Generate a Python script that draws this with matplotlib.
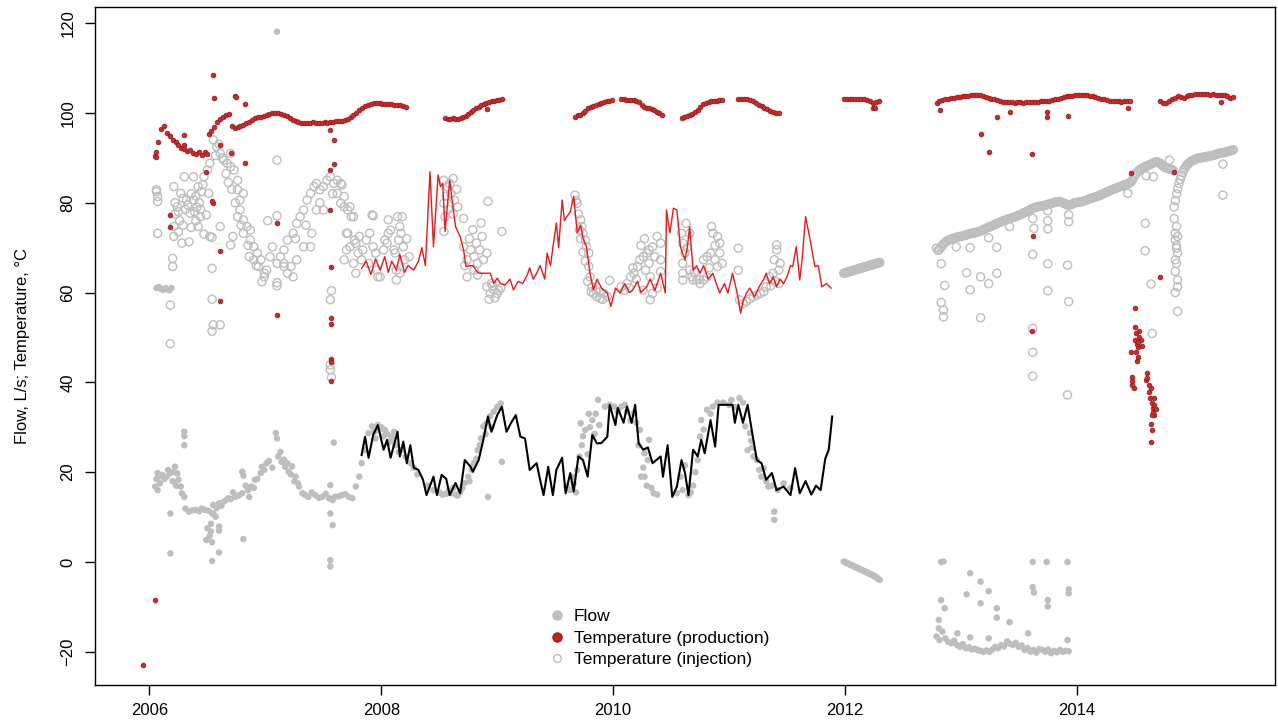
import numpy as np
import matplotlib.pyplot as plt
from matplotlib.lines import Line2D

plt.rcParams['font.family'] = ['Liberation Sans', 'DejaVu Sans']

# ------------------------------------------------------------------ #
# Data (decimal years). Continuous pieces: (start, end, values)
# ------------------------------------------------------------------ #

# production temperature, continuous pieces
prod_p1 = (2006.05, 2006.50, [90.5, 93.5, 96.5, 97, 95.5, 94.8, 94, 93.5, 92.8, 92.3, 92, 91.5,
                              91.8, 91.1, 90.8, 91.3, 90.7, 91.2, 90.8])
prod_p2 = (2006.51, 2008.21, [95.4, 96, 96.8, 98, 98.6, 99.2, 99.5, 99.8, 97.2, 96.6, 96.8, 97.1,
                              97.4, 97.8, 98, 98.4, 98.8, 99, 99.2, 99.4, 99.6, 99.8, 99.9, 100,
                              99.9, 99.8, 99.6, 99.3, 98.9, 98.4, 98.1, 97.9, 97.8, 97.7, 97.8,
                              97.7, 97.9, 97.8, 97.7, 97.8, 97.9, 97.8, 97.9, 98, 98.1, 98.2, 98.3,
                              98.4, 98.7, 99.1, 99.6, 100.1, 100.6, 101.1, 101.5, 101.8, 102,
                              102.2, 102.3, 102.2, 102.1, 102, 101.9, 101.9, 101.8, 101.7, 101.7,
                              101.6, 101.4])
prod_p3 = (2008.55, 2009.04, [98.8, 98.7, 98.6, 98.8, 98.6, 98.7, 98.9, 99.2, 99.4, 99.8, 100.3,
                              100.6, 101, 101.4, 101.7, 102, 102.2, 102.4, 102.6, 102.6, 102.8,
                              102.9, 103])
prod_p4 = (2009.67, 2009.99, [99.2, 99.5, 99.6, 99.9, 100.5, 101, 101.4, 101.6, 101.8, 102, 102.3,
                              102.5, 102.6, 102.7, 102.8])
prod_p5 = (2010.07, 2010.42, [103, 103, 102.9, 102.8, 102.8, 102.8, 102.7, 102.5, 101.8, 101.4,
                              101.2, 101, 100.8, 100.6, 100.2, 99.9, 99.6])
prod_p6 = (2010.59, 2010.94, [98.8, 99.1, 99.4, 99.6, 99.8, 100.3, 100.7, 101.3, 101.9, 102.2,
                              102.4, 102.6, 102.7, 102.7, 102.8, 102.8])
prod_p7 = (2011.08, 2011.43, [103, 103.1, 103.2, 103.1, 102.8, 102.6, 102.3, 101.8, 101.5, 101.1,
                              100.8, 100.5, 100.3, 100.1, 99.9])
prod_p8 = (2011.99, 2012.29, [103, 103.1, 103, 103.1, 103.1, 103, 103.1, 103, 102.9, 102.6, 102.2,
                              102.4, 102.6])
prod_p9 = (2012.79, 2014.46, [102.2, 102.6, 102.9, 103.1, 103.2, 103.3, 103.4, 103.5, 103.6, 103.7,
                              103.8, 103.8, 103.9, 104, 104, 104, 103.8, 103.6, 103.4, 103.2, 103,
                              102.8, 102.6, 102.5, 102.4, 102.4, 102.4, 102.3, 102.4, 102.4, 102.3,
                              102.4, 102.4, 102.5, 102.5, 102.5, 102.6, 102.6, 102.6, 102.7, 102.8,
                              103, 103.2, 103.4, 103.6, 103.7, 103.8, 103.8, 103.9, 104, 104, 103.9,
                              103.9, 103.8, 103.7, 103.5, 103.3, 103.1, 103, 102.8, 102.7, 102.6,
                              102.6, 102.6, 102.5, 102.6, 102.6, 102.6])
prod_p10 = (2014.72, 2015.35, [102.6, 102.3, 102.2, 102.6, 103, 103.3, 103.7, 103.5, 103.3, 103.7,
                               104, 104.1, 104.2, 104.2, 104.3, 104.2, 104.2, 104.1, 104.2, 104.1,
                               104, 104, 103.9, 103.7, 103.3, 103.6])

# production temperature, single readings
prod_x = [2005.94, 2006.05, 2006.06, 2006.06, 2006.30, 2006.30, 2006.18, 2006.18, 2006.49, 2006.55,
          2006.56, 2006.55, 2006.54, 2006.61, 2006.61, 2006.61, 2006.70, 2006.74, 2006.75, 2006.82,
          2006.82, 2007.10, 2007.10, 2007.56, 2007.59, 2007.59, 2007.56, 2007.56, 2007.57, 2007.57,
          2007.57, 2007.57, 2007.57, 2007.57, 2008.91, 2012.24, 2012.26, 2012.82, 2013.31, 2013.42,
          2013.74, 2013.74, 2013.92, 2013.17, 2013.24, 2013.61, 2013.62, 2013.61, 2014.44, 2014.47,
          2014.84, 2014.72, 2015.24,
          2014.50, 2014.50, 2014.51, 2014.50, 2014.55, 2014.53, 2014.51, 2014.53, 2014.47, 2014.52,
          2014.54, 2014.56, 2014.52, 2014.54, 2014.53, 2014.48, 2014.48, 2014.49, 2014.48, 2014.61,
          2014.60, 2014.61, 2014.62, 2014.63, 2014.65, 2014.67, 2014.66, 2014.67, 2014.65, 2014.64,
          2014.65, 2014.64, 2014.66, 2014.67, 2014.68, 2014.64, 2014.62]
prod_y = [-23, -8.5, 90.3, 91.4, 95.1, 92.9, 77.3, 74.5, 86.9, 108.5,
          103.3, 79.9, 80.5, 92.9, 69.3, 58.2, 91, 103.7, 103.5, 102,
          88.8, 75.4, 55, 96.2, 94, 88.6, 87.3, 78.4, 65.8, 54.3,
          52.9, 45.2, 44.6, 40.4, 100.9, 101, 101.2, 100.7, 99, 100.3,
          100.2, 99, 99.3, 95.3, 91.3, 90.9, 72.6, 51.4, 101, 86.6,
          86.9, 63.4, 102.4,
          56.5, 52.4, 50.9, 49.4, 49.4, 47.9, 46.8, 45.7, 46.8, 48.5,
          50.2, 48, 44.8, 51.5, 49, 41.3, 40.2, 38.7, 39.5, 42,
          40.5, 41, 37.9, 36.5, 35.3, 36.5, 34.2, 32.7, 32.7, 30.7,
          29.4, 26.8, 33.5, 35, 34, 38.8, 39.5]

# injection temperature, continuous pieces
inj_p1 = (2011.99, 2012.30, [64.30, 64.35, 64.40, 64.45, 64.50, 64.55, 64.60, 64.65, 64.70, 64.75,
                             64.80, 64.85, 64.90, 64.95, 65.00, 65.05, 65.10, 65.15, 65.20, 65.25,
                             65.30, 65.35, 65.40, 65.45, 65.50, 65.55, 65.60, 65.65, 65.70, 65.75,
                             65.80, 65.85, 65.90, 65.95, 66.00, 66.05, 66.10, 66.15, 66.20, 66.25,
                             66.30, 66.35, 66.40, 66.45, 66.50, 66.55, 66.60, 66.65, 66.70])
inj_p2 = (2012.79, 2014.83, [69.9, 69.4, 69.6, 70.1, 70.5, 70.9, 71.2, 71.4, 71.6, 71.8, 71.9, 72.0,
                             72.1, 72.2, 72.3, 72.4, 72.5, 72.5, 72.6, 72.7, 72.8, 72.9, 73, 73.1,
                             73.2, 73.2, 73.3, 73.4, 73.5, 73.6, 73.7, 73.8, 74, 74.2, 74.3, 74.5,
                             74.6, 74.7, 74.9, 75.0, 75.2, 75.3, 75.5, 75.6, 75.7, 75.9, 76, 76.1,
                             76.2, 76.4, 76.5, 76.6, 76.7, 76.8, 76.9, 77.0, 77.2, 77.3, 77.4,
                             77.6, 77.8, 77.9, 78.1, 78.2, 78.4, 78.6, 78.8, 78.9, 79, 79.1, 79.2,
                             79.2, 79.3, 79.3, 79.4, 79.5, 79.6, 79.7, 79.8, 79.9, 80, 80.1, 80.2,
                             80.2, 80.3, 80.2, 80.1, 79.9, 79.8, 79.6, 79.5, 79.5, 79.6, 79.7,
                             79.9, 80, 80.1, 80.1, 80.2, 80.2, 80.3, 80.4, 80.5, 80.6, 80.8, 80.9,
                             81, 81.1, 81.2, 81.3, 81.4, 81.5, 81.7, 81.8, 82, 82.1, 82.3, 82.4,
                             82.6, 82.7, 82.9, 83, 83.1, 83.2, 83.4, 83.5, 83.6, 83.7, 83.9, 84,
                             84.1, 84.2, 84.4, 84.6, 85, 85.6, 86.2, 86.6, 87, 87.3, 87.5, 87.7,
                             87.9, 88, 88.2, 88.3, 88.5, 88.6, 88.8, 88.9, 89.1, 89.1, 89, 88.8,
                             88.5, 88.2, 88, 87.8, 87.7, 87.6, 87.5, 87.4, 87.3])
inj_p3 = (2014.84, 2015.35, [79.1, 80.5, 82, 83.2, 84.3, 85.2, 86, 86.7, 87.3, 87.8, 88.2, 88.5,
                             88.8, 89, 89.2, 89.4, 89.5, 89.6, 89.8, 89.9, 89.9, 90, 90, 90.1,
                             90.1, 90.2, 90.2, 90.3, 90.3, 90.4, 90.4, 90.5, 90.5, 90.6, 90.7,
                             90.8, 90.9, 91, 91, 91.1, 91.1, 91.2, 91.2, 91.3, 91.4, 91.5, 91.5,
                             91.6, 91.7, 91.8])

# injection temperature, single readings
inj_x = [2006.06, 2006.07, 2006.07, 2006.07, 2006.06, 2006.21, 2006.24, 2006.27, 2006.30, 2006.32,
         2006.35, 2006.38, 2006.41, 2006.44, 2006.42, 2006.38, 2006.21, 2006.21, 2006.28, 2006.34,
         2006.42, 2006.47, 2006.50, 2006.52, 2006.51, 2006.20, 2006.20, 2006.54, 2006.61, 2006.52,
         2006.49, 2006.22, 2006.25, 2006.26, 2006.29, 2006.31, 2006.33, 2006.36, 2006.39, 2006.40,
         2006.43, 2006.45, 2006.46, 2006.44, 2006.25, 2006.29, 2006.36, 2006.47, 2006.22, 2006.40,
         2006.18, 2006.18, 2006.54, 2006.54, 2006.54, 2006.55, 2006.61, 2007.10, 2007.02, 2007.10,
         2007.10, 2007.57, 2007.56, 2007.56, 2007.56, 2007.57, 2007.93, 2007.10,
         # 2006.5 - 2007.0 decline
         2006.55, 2006.58, 2006.61, 2006.64, 2006.67, 2006.70, 2006.70, 2006.73, 2006.76, 2006.76,
         2006.78, 2006.81, 2006.78, 2006.76, 2006.81, 2006.84, 2006.87, 2006.81, 2006.87, 2006.90,
         2006.93, 2006.96, 2006.94, 2006.99, 2006.90, 2006.86, 2006.70, 2006.72, 2006.57, 2006.60,
         2006.63, 2006.66, 2006.68, 2006.71, 2006.74, 2006.79, 2006.85, 2006.92, 2006.97, 2006.99,
         2007.01,
         # 2007 rise
         2007.04, 2007.10, 2007.16, 2007.06, 2007.13, 2007.16, 2007.19, 2007.24, 2007.27, 2007.30,
         2007.33, 2007.36, 2007.39, 2007.42, 2007.44, 2007.47, 2007.50, 2007.53, 2007.56, 2007.59,
         2007.62, 2007.65, 2007.68, 2007.16, 2007.22, 2007.27, 2007.33, 2007.39, 2007.40, 2007.44,
         2007.50, 2007.19, 2007.24, 2007.26, 2007.35, 2007.47, 2007.58, 2007.62, 2007.66,
         # 2007.7 - 2008.25
         2007.71, 2007.74, 2007.71, 2007.77, 2007.80, 2007.83, 2007.89, 2007.95, 2007.97, 2008.03,
         2008.06, 2008.12, 2008.15, 2008.18, 2008.20, 2007.65, 2007.68, 2007.73, 2007.76, 2007.70,
         2007.73, 2007.70, 2007.68, 2007.78, 2007.81, 2007.76, 2007.78, 2007.84, 2007.87, 2007.90,
         2007.92, 2007.93, 2007.96, 2007.99, 2008.02, 2008.05, 2008.06, 2008.08, 2008.11, 2008.13,
         2008.14, 2008.16, 2008.17, 2008.19, 2008.16, 2008.13, 2008.22, 2008.24,
         # 2008.5 - 2009.05
         2008.54, 2008.57, 2008.60, 2008.63, 2008.66, 2008.54, 2008.55, 2008.54, 2008.71, 2008.92,
         2009.04, 2008.56, 2008.59, 2008.62, 2008.58, 2008.62, 2008.65,
         2008.71, 2008.74, 2008.77, 2008.80, 2008.83, 2008.85, 2008.87, 2008.88, 2008.91, 2008.74,
         2008.80, 2008.83, 2008.76, 2008.79, 2008.82, 2008.86, 2008.72,
         2008.91, 2008.94, 2008.97, 2009.00, 2009.03, 2008.95, 2008.93, 2008.98, 2009.01, 2008.96,
         # 2009.65 - 2010.0
         2009.67, 2009.69, 2009.72, 2009.73, 2009.74, 2009.76, 2009.77, 2009.79, 2009.79, 2009.80,
         2009.82, 2009.83, 2009.86, 2009.89, 2009.92, 2009.95, 2009.97, 2009.70, 2009.72, 2009.74,
         2009.76, 2009.78, 2009.81, 2009.85, 2009.88, 2009.91, 2009.68, 2009.71,
         # 2010.05 - 2010.45
         2010.07, 2010.12, 2010.15, 2010.18, 2010.21, 2010.23, 2010.26, 2010.29, 2010.31, 2010.34,
         2010.31, 2010.32, 2010.34, 2010.41, 2010.41, 2010.41, 2010.32, 2010.10, 2010.14, 2010.17,
         2010.20, 2010.24, 2010.27, 2010.28, 2010.36, 2010.38, 2010.26, 2010.38,
         # 2010.55 - 2011.1
         2010.59, 2010.60, 2010.62, 2010.60, 2010.60, 2010.60, 2010.63, 2010.66, 2010.68, 2010.69,
         2010.72, 2010.75, 2010.78, 2010.81, 2010.78, 2010.81, 2010.84, 2010.85, 2010.86, 2010.88,
         2010.90, 2010.92, 2010.92, 2011.08, 2011.08, 2010.64, 2010.66, 2010.70, 2010.74, 2010.83,
         2010.88, 2010.90, 2010.94,
         # 2011.1 - 2011.45
         2011.09, 2011.15, 2011.21, 2011.27, 2011.32, 2011.35, 2011.38, 2011.39, 2011.41, 2011.41,
         2011.12, 2011.18, 2011.24, 2011.30, 2011.36, 2011.40, 2011.43, 2011.44, 2011.43,
         # 2012.8 - 2015
         2014.85, 2014.85, 2014.86, 2014.86, 2014.87, 2014.85, 2014.86, 2014.85, 2014.87, 2014.87,
         2014.87, 2014.84, 2014.86, 2014.87, 2014.85,
         2012.83, 2012.86, 2012.83, 2012.85, 2012.85, 2012.96, 2013.08, 2013.05, 2013.17, 2013.24,
         2013.31, 2013.08, 2013.17, 2013.24, 2013.31, 2013.42, 2013.62, 2013.63, 2013.62, 2013.62,
         2013.62, 2013.62, 2013.75, 2013.75, 2013.75, 2013.75, 2013.75, 2013.93, 2013.93, 2013.92,
         2013.93, 2013.92, 2014.44, 2014.59, 2014.59, 2014.64, 2014.65, 2014.80, 2015.26, 2015.26,
         2014.60, 2014.66]
inj_y = [82.5, 81.4, 80.3, 73.2, 82.9, 83.6, 79.1, 82.1, 85.8, 80.6,
         77.7, 80.6, 79, 76.9, 83.6, 85.8, 74.7, 72.5, 71, 71.3,
         74.7, 85.8, 87.3, 88.8, 82.1, 67.6, 65.8, 65.4, 74.7, 72.5,
         77.3, 80, 78, 76, 81, 78.5, 79.5, 82, 78, 81.5,
         80, 82.5, 84, 78.5, 73.5, 75, 74.5, 73, 77.5, 76,
         57.2, 48.6, 72.3, 58.5, 51.4, 52.8, 52.8, 89.5, 76, 77.1,
         62.2, 60.4, 58.4, 43.9, 42.8, 41.1, 77.1, 61.5,
         94, 92.5, 91, 89.5, 88.8, 91, 88, 87.3, 85, 82.9,
         80.6, 82.1, 78.4, 76.9, 76.2, 74.7, 73.9, 73.2, 71.7, 70.2,
         68.8, 67.3, 65.8, 64.3, 67.3, 68, 70.6, 72.5, 90.5, 93,
         90, 86.5, 84.5, 83, 80, 75, 70.5, 66, 62.4, 63.5,
         65,
         68, 66.5, 65.8, 70.2, 68, 69.5, 71.7, 73.2, 75.4, 76.9,
         78.4, 80.6, 82.1, 83.6, 84.3, 82.9, 83.6, 85, 85.8, 84.3,
         82.1, 79.9, 79.1, 66.5, 65.8, 67.3, 70.2, 70.2, 73.2, 78.4,
         78.4, 64.3, 63.5, 72, 75, 80, 82, 85, 84,
         78.4, 76.9, 73.2, 71.7, 68.8, 67.3, 66.5, 68.8, 63.5, 71.7,
         73.2, 68.8, 71.7, 76.9, 67.3, 84.3, 81.4, 79.1, 76.9, 73.2,
         70.2, 69.5, 67.3, 71, 72.5, 66.5, 64.3, 69.5, 71.7, 73.2,
         77.3, 70.2, 65, 63.5, 69.5, 71, 76.2, 73.9, 69.5, 65,
         76.9, 74.7, 73.2, 70.2, 64.3, 62.8, 72, 68,
         85, 83.6, 82.1, 80.6, 79.1, 79.9, 76.9, 73.6, 76.5, 80.3,
         73.6, 81.5, 84.3, 85.4, 78.5, 77.5, 83,
         70.2, 67.3, 69.5, 68, 66.5, 69.5, 72.5, 67.3, 68.8, 63.5,
         65, 63.9, 72, 74, 71, 75.5, 66,
         61.3, 59.8, 60.6, 59.8, 61, 62, 58.5, 58.8, 60.5, 61.5,
         81.7, 79.9, 76.2, 74.7, 73.2, 71.7, 70.2, 68.8, 65.8, 63.5,
         61.3, 59.8, 59.1, 58.7, 59.8, 59.1, 62.7, 77.5, 72, 69,
         67, 62.5, 60.2, 60.5, 60.1, 58.5, 80.5, 74,
         61.3, 62, 63.5, 64.3, 65.8, 67.3, 68, 68.8, 69.5, 70.2,
         66.5, 63.5, 59.8, 71, 67.3, 64.7, 58.4, 60.5, 61, 65.5,
         63, 70.5, 72, 65, 68, 72.5, 60.5, 61,
         73.2, 71, 68.8, 66.5, 64.3, 62.8, 75.4, 73.2, 63.5, 62.8,
         62.8, 62, 62.8, 63.5, 67.3, 68, 68.8, 74.7, 73.2, 67.3,
         65.8, 71, 68.8, 69.9, 65, 70, 65, 64.5, 63, 65.5,
         70.5, 72.5, 66.5,
         58.4, 58, 59.1, 59.8, 61.3, 63.5, 64.3, 67.3, 69.5, 70.6,
         57.5, 58.6, 59.5, 60.2, 61.5, 62.5, 65, 66.5, 62,
         71.7, 73.2, 74.7, 69.9, 68.8, 67.3, 66.5, 64.7, 62.8, 61.3,
         55.8, 76.5, 70.5, 72.5, 60,
         66.4, 61.6, 57.8, 56.1, 54.6, 70.2, 70, 64.4, 63.5, 62,
         64.3, 60.6, 54.4, 72.2, 70.1, 74.7, 76.5, 74.3, 68.5, 52,
         46.7, 41.4, 78.2, 76, 74.2, 66.4, 60.4, 77.3, 75.8, 66.1,
         58, 37.2, 82.1, 75.4, 69.3, 61.9, 50.9, 89.5, 81.7, 88.6,
         86, 85.8]

# flow, continuous pieces
flow_p1 = (2011.99, 2012.30, [0.1, 0.0, -0.1, -0.2, -0.3, -0.4, -0.5, -0.6, -0.7, -0.8, -0.9, -1.0,
                              -1.1, -1.2, -1.3, -1.4, -1.5, -1.6, -1.7, -1.8, -1.9, -2.0, -2.1,
                              -2.2, -2.3, -2.4, -2.5, -2.6, -2.7, -2.8, -2.9, -3.0, -3.1, -3.25,
                              -3.4, -3.55, -3.7, -3.85, -4.0])
flow_p2 = (2012.79, 2013.93, [-16.6, -17.4, -15.5, -17, -17.8, -18.1, -17.5, -18.5, -18.9, -18.3,
                              -19.2, -19, -19.5, -19.3, -19.6, -19.8, -20, -19.7, -20, -19.5,
                              -18.9, -19.2, -18.5, -18.8, -17.7, -18.2, -18.5, -18, -18.9, -18.6,
                              -19.6, -19.2, -20, -19.6, -20.2, -19.4, -19.6, -20, -19.5, -20.3,
                              -19.8, -20.1, -19.6, -20, -19.8, -19.9])

# flow, single readings
flow_x = [2006.05, 2006.07, 2006.07, 2006.08, 2006.11, 2006.15, 2006.18, 2006.21, 2006.22, 2006.24,
          2006.25, 2006.27, 2006.28, 2006.30, 2006.18, 2006.18, 2006.30, 2006.30, 2006.30, 2006.09,
          2006.13, 2006.16, 2006.06, 2006.20, 2006.23,
          2006.06, 2006.08, 2006.10, 2006.12, 2006.14, 2006.17, 2006.19,
          2006.31, 2006.34, 2006.40, 2006.45, 2006.48, 2006.55, 2006.57, 2006.55, 2006.60, 2006.64,
          2006.68, 2006.74, 2006.80, 2006.85, 2006.88, 2006.91, 2006.96, 2006.97, 2007.01, 2006.80,
          2006.81, 2006.37, 2006.43, 2006.51, 2006.53, 2006.58, 2006.62, 2006.66, 2006.70, 2006.72,
          2006.77, 2006.83, 2006.93, 2006.99, 2006.86, 2006.90,
          2006.50, 2006.53, 2006.49, 2006.54, 2006.60, 2006.60, 2006.60, 2006.54, 2006.81, 2006.54,
          2006.52,
          2007.09, 2007.10, 2007.11, 2007.14, 2007.17, 2007.20, 2007.23, 2007.26, 2007.29, 2007.32,
          2007.37, 2007.43, 2007.49, 2007.55, 2007.60, 2007.66, 2007.72, 2007.78, 2007.81, 2007.83,
          2007.86, 2007.89, 2007.92, 2007.98, 2008.03, 2008.09, 2007.13, 2007.16, 2007.19, 2007.22,
          2007.25, 2007.28, 2007.34, 2007.40, 2007.46, 2007.52, 2007.58, 2007.63, 2007.69, 2007.75,
          2007.06, 2007.03,
          2007.10, 2007.56, 2007.58, 2007.56, 2007.56, 2007.59, 2007.56,
          2008.05, 2008.08, 2008.12, 2008.15, 2008.18, 2008.21, 2008.25, 2008.28, 2008.31, 2007.95,
          2007.97, 2008.00, 2008.02, 2007.94, 2008.06, 2008.11,
          2008.40, 2008.45, 2008.50, 2008.53, 2008.56, 2008.60, 2008.64, 2008.68, 2008.62, 2008.58,
          2008.66,
          2008.72, 2008.75, 2008.78, 2008.80, 2008.83, 2008.86, 2008.88, 2008.91, 2008.94, 2008.97,
          2009.00, 2009.03, 2008.79, 2008.82, 2008.85, 2008.90, 2008.95, 2009.04, 2008.92, 2008.76,
          2008.70,
          2009.60, 2009.63, 2009.66, 2009.69, 2009.71, 2009.72, 2009.73, 2009.76, 2009.80, 2009.82,
          2009.85, 2009.87, 2009.68, 2009.74, 2009.78, 2009.84, 2009.88, 2009.79, 2009.65,
          2009.93, 2010.01, 2010.07, 2010.12, 2010.18, 2010.23, 2010.24, 2010.27, 2010.30, 2010.31,
          2010.27, 2010.35, 2009.97, 2010.04, 2010.10, 2010.15, 2010.20, 2010.22, 2010.26, 2010.29,
          2010.33, 2010.38,
          2010.55, 2010.60, 2010.65, 2010.69, 2010.73, 2010.75, 2010.76, 2010.81, 2010.86, 2010.95,
          2011.02, 2011.09, 2011.14, 2011.24, 2011.28, 2011.34, 2011.16, 2011.18, 2011.19, 2011.20,
          2011.30, 2011.39, 2011.39, 2010.58, 2010.62, 2010.67, 2010.71, 2010.78, 2010.84, 2010.90,
          2011.00, 2011.05, 2011.12, 2011.21, 2011.26, 2011.32, 2011.37, 2011.42, 2011.47, 2011.53,
          2012.85, 2012.83, 2013.62, 2013.74, 2013.92, 2013.08, 2013.17, 2013.24, 2013.05, 2012.83,
          2012.86, 2013.17, 2013.31, 2013.31, 2013.42, 2013.62, 2013.63, 2013.75, 2013.75, 2013.93,
          2013.93, 2012.81, 2012.81, 2013.58, 2013.24, 2012.97, 2013.08, 2013.92]
flow_y = [16.8, 16, 19.8, 19, 19.4, 19, 19.8, 20.1, 21.2, 19.7,
          18.3, 16.8, 15.3, 14.5, 10.8, 1.9, 29, 28, 26, 17.5,
          18.5, 20.5, 18.5, 18, 17,
          61, 61.2, 60.8, 60.6, 61, 60.5, 61,
          11.9, 11.2, 11.6, 11.9, 11.6, 10.8, 10.1, 12.7, 13.1, 13.4,
          14.2, 14.5, 15.3, 16, 16.8, 18.3, 19.8, 21.2, 22, 20.1,
          19.2, 11.5, 11.3, 11.4, 8.5, 12, 12.5, 13.8, 14, 15.5,
          14.8, 17, 18.5, 20.5, 14.5, 16.5,
          7.5, 6.8, 4.9, 4.4, 7.9, 7, 2.1, 0.2, 5.1, 10.8,
          5.8,
          28.7, 27.5, 23.5, 22.3, 21.2, 20.1, 21.3, 19, 16.8, 15.3,
          14.5, 14.9, 14.5, 14.2, 14.5, 14.9, 14.5, 16.8, 19, 22,
          24.9, 28.7, 30.2, 29.4, 29.4, 27.9, 24.5, 22.8, 22, 19.5,
          18, 17.5, 15, 15.5, 14.3, 15.2, 13.8, 14.6, 15.1, 14.2,
          21, 22.5,
          118.1, 10.8, 8.2, 0.4, -1, 26.6, 17.1,
          28.5, 27, 26, 24.5, 25, 23.5, 22, 21, 19.5, 27.5,
          30.5, 30, 28, 29, 26.5, 29,
          17, 16, 15.5, 15, 15.2, 15.3, 15, 15.5, 16.5, 15.8,
          14.8,
          17.6, 19, 20.5, 22, 24.9, 27.5, 30.2, 31, 32.5, 33.5,
          34.5, 35.3, 21.5, 23, 26, 28.5, 30, 22.3, 14.5, 18,
          16.5,
          16.8, 16, 17.5, 20.5, 23.5, 30.9, 26, 29.4, 30, 31.6,
          33, 36.1, 15.5, 28, 24, 28.5, 30.5, 33, 19,
          34.6, 34.6, 34.6, 33.5, 33.1, 29.4, 19, 24.2, 22.7, 27.2,
          19, 15.3, 35, 33.5, 35, 31.5, 31, 26, 21, 17,
          16.5, 15,
          15.3, 16, 14.9, 17, 22.7, 27.9, 31.6, 33.9, 34.6, 35.5,
          36.1, 36.5, 30.2, 22.7, 19, 16.8, 24.9, 28.7, 27, 25.5,
          20.9, 11.2, 9.4, 19, 21.5, 15.5, 20, 29.5, 33, 35.5,
          35, 34.5, 35.5, 23.5, 20.5, 18, 17, 16, 17.5, 16.5,
          0.1, 0, 0, 0, 0, -2.5, -4.4, -6.5, -7.2, -8.5,
          -10.3, -9.2, -10.3, -12.4, -13.4, -5.6, -6.8, -8.5, -9.9, -6.1,
          -7, -12.9, -14.8, -15.9, -17, -15.9, -16.8, -17.4]

# modelled injection temperature (red line)
model_temp_x = [2007.83, 2007.87, 2007.91, 2007.95, 2007.99, 2008.03, 2008.06, 2008.09, 2008.13,
                2008.16, 2008.20, 2008.23, 2008.28, 2008.32, 2008.35, 2008.38, 2008.42, 2008.45,
                2008.49, 2008.51, 2008.53, 2008.55, 2008.59, 2008.64, 2008.68, 2008.71, 2008.73,
                2008.77, 2008.79, 2008.83, 2008.85, 2008.90, 2008.94, 2008.97, 2009.00, 2009.03,
                2009.07, 2009.11, 2009.14, 2009.18, 2009.22, 2009.26, 2009.28, 2009.31, 2009.34,
                2009.37, 2009.41, 2009.43, 2009.46, 2009.48, 2009.51, 2009.53, 2009.56, 2009.58,
                2009.60, 2009.63, 2009.66, 2009.69, 2009.72, 2009.74, 2009.77, 2009.80, 2009.83,
                2009.86, 2009.90, 2009.95, 2009.98, 2010.02, 2010.06, 2010.10, 2010.14, 2010.17,
                2010.21, 2010.24, 2010.29, 2010.32, 2010.36, 2010.41, 2010.45, 2010.46, 2010.49,
                2010.52, 2010.55, 2010.58, 2010.62, 2010.64, 2010.66, 2010.69, 2010.72, 2010.75,
                2010.78, 2010.82, 2010.86, 2010.89, 2010.92, 2010.96, 2010.99, 2011.03, 2011.07,
                2011.10, 2011.12, 2011.15, 2011.18, 2011.22, 2011.26, 2011.30, 2011.32, 2011.35,
                2011.38, 2011.41, 2011.44, 2011.47, 2011.50, 2011.53, 2011.55, 2011.58, 2011.61,
                2011.63, 2011.66, 2011.70, 2011.74, 2011.77, 2011.80, 2011.84, 2011.88]
model_temp_y = [65.4, 67, 64, 67.5, 65, 68, 64.5, 67, 65,
                68.5, 64.5, 66, 65, 67, 70, 66, 86.9, 70.2,
                86.2, 83.6, 84.3, 73.6, 85, 74.7, 72.5, 69.5, 65.8,
                66, 66, 64.5, 64.3, 64.3, 64.3, 62, 63.2, 62,
                61.7, 63, 60.6, 62.5, 62, 64, 65.5, 63, 64.3,
                66, 63, 68.8, 66, 70, 75.5, 70, 80.6, 76,
                76.9, 78, 81.4, 73.3, 75, 72, 70.2, 64.3, 60.6,
                63, 61, 59.9, 56.9, 61, 59.9, 62, 60, 60.6,
                62.5, 60, 61.3, 63, 60.5, 64.3, 59.9, 78.4, 73.3,
                78.8, 78.4, 70.2, 67.3, 70, 74.7, 65, 66, 64.3,
                66, 63, 64.3, 62, 59.9, 62, 59.9, 64.3, 59.9,
                55.4, 58, 59.9, 61, 59, 61.3, 63, 64.3, 62,
                63.5, 61.3, 63, 62, 63.5, 66, 65.8, 70.2, 62.8,
                67.3, 76.9, 71.7, 65.8, 66, 61.3, 62, 61]

# modelled flow (black line)
model_flow_x = [2007.83, 2007.86, 2007.89, 2007.93, 2007.97, 2008.02, 2008.05, 2008.08, 2008.14,
                2008.16, 2008.19, 2008.22, 2008.25, 2008.28, 2008.32, 2008.36, 2008.39, 2008.45,
                2008.48, 2008.52, 2008.56, 2008.59, 2008.64, 2008.68, 2008.72, 2008.77, 2008.79,
                2008.84, 2008.88, 2008.92, 2008.95, 2009.00, 2009.04, 2009.08, 2009.12, 2009.16,
                2009.20, 2009.24, 2009.28, 2009.34, 2009.37, 2009.40, 2009.44, 2009.48, 2009.51,
                2009.56, 2009.59, 2009.63, 2009.66, 2009.70, 2009.74, 2009.78, 2009.82, 2009.86,
                2009.90, 2009.95, 2009.97, 2010.02, 2010.04, 2010.09, 2010.12, 2010.16, 2010.19,
                2010.22, 2010.26, 2010.30, 2010.34, 2010.41, 2010.43, 2010.47, 2010.51, 2010.55,
                2010.59, 2010.62, 2010.65, 2010.69, 2010.73, 2010.76, 2010.79, 2010.84, 2010.88,
                2010.91, 2011.03, 2011.05, 2011.08, 2011.12, 2011.16, 2011.20, 2011.24, 2011.28,
                2011.32, 2011.37, 2011.41, 2011.47, 2011.53, 2011.57, 2011.61, 2011.66, 2011.71,
                2011.75, 2011.79, 2011.83, 2011.86, 2011.89]
model_flow_y = [23.8, 27.9, 23.2, 28.3, 30.5, 25, 27.2, 23.2, 29,
                23.5, 26.8, 22, 26, 21, 20.5, 18.3, 14.9, 19,
                14.9, 19.4, 18.5, 14.9, 17.6, 15.3, 22.7, 21.2, 20.1,
                22.7, 27.2, 32.4, 29, 32.7, 34.6, 29, 31, 32.7,
                27.9, 27.5, 20.5, 22, 18.3, 14.9, 21.2, 14.9, 20.5,
                23.2, 15.3, 19.8, 15.7, 23.5, 22.7, 19, 28.3, 26.4,
                26.5, 27.9, 35, 30.5, 34.3, 31, 34.6, 31, 35,
                26.4, 25, 25.5, 22, 23.5, 19, 26, 14.5, 16.8,
                22.7, 19.8, 14.9, 25, 23.5, 27.2, 24.2, 31.6, 25.7,
                35, 35, 31, 35, 31, 35, 28.7, 22.7, 22,
                18.3, 19.8, 16, 16.8, 14.9, 20.9, 15.3, 18, 15,
                17, 16, 23, 25, 32.4]

labels = ['Flow', 'Temperature (production)', 'Temperature (injection)']


def pieces(*segs):
    # regular sampling dates for each continuous piece
    xs, ys = [], []
    for start, end, vals in segs:
        xs.append(np.linspace(start, end, len(vals)))
        ys.append(np.array(vals, dtype=float))
    return np.concatenate(xs), np.concatenate(ys)


fx, fy = pieces(flow_p1, flow_p2)
flow_all_x = np.concatenate([np.array(flow_x), fx])
flow_all_y = np.concatenate([np.array(flow_y), fy])

px, py = pieces(prod_p1, prod_p2, prod_p3, prod_p4, prod_p5, prod_p6, prod_p7, prod_p8,
                prod_p9, prod_p10)
prod_all_x = np.concatenate([px, np.array(prod_x)])
prod_all_y = np.concatenate([py, np.array(prod_y)])

ix, iy = pieces(inj_p1, inj_p2, inj_p3)
inj_all_x = np.concatenate([np.array(inj_x), ix])
inj_all_y = np.concatenate([np.array(inj_y), iy])

# ------------------------------------------------------------------ #
# Plot
# ------------------------------------------------------------------ #
grey = '#BEBEBE'

fig = plt.figure(figsize=(12.78, 7.25), dpi=100)
ax = fig.add_axes([95 / 1278, 40 / 725, 1180 / 1278, 678 / 725])

ax.scatter(flow_all_x, flow_all_y, s=22, c=grey, edgecolors='none', zorder=2)
ax.scatter(inj_all_x, inj_all_y, s=34, facecolors='none', edgecolors=grey,
           linewidths=1.0, zorder=3)
ax.scatter(prod_all_x, prod_all_y, s=11, c='#C43030', edgecolors='#9E1A1A',
           linewidths=0.6, zorder=4)
ax.plot(model_temp_x, model_temp_y, color='#E41A1C', lw=1.0, zorder=5)
ax.plot(model_flow_x, model_flow_y, color='black', lw=1.5, zorder=5)

ax.set_xlim(2005.53, 2015.71)
ax.set_ylim(-27.4, 123.6)
ax.set_xticks([2006, 2008, 2010, 2012, 2014])
ax.set_yticks([-20, 0, 20, 40, 60, 80, 100, 120])
ax.set_yticklabels(['\u221220', '0', '20', '40', '60', '80', '100', '120'],
                   rotation=90, va='center')
ax.tick_params(axis='both', length=7, width=1, labelsize=12)
ax.tick_params(axis='x', pad=6)
ax.tick_params(axis='y', pad=7)
for s in ax.spines.values():
    s.set_linewidth(1)
ax.set_ylabel('Flow, L/s; Temperature, \u00b0C', fontsize=12, labelpad=22)

handles = [Line2D([], [], ls='none', marker='o', ms=6.5, mfc=grey, mec=grey),
           Line2D([], [], ls='none', marker='o', ms=6.5, mfc='#C42020', mec='#A01818'),
           Line2D([], [], ls='none', marker='o', ms=5.5, mfc='none', mec=grey, mew=1.0)]
ax.legend(handles, labels, loc='upper left', bbox_to_anchor=(0.378, 0.122), frameon=False,
          fontsize=12.5, handlelength=1.0, handletextpad=0.5, labelspacing=0.35,
          borderaxespad=0)

plt.savefig('out.png', dpi=100)
